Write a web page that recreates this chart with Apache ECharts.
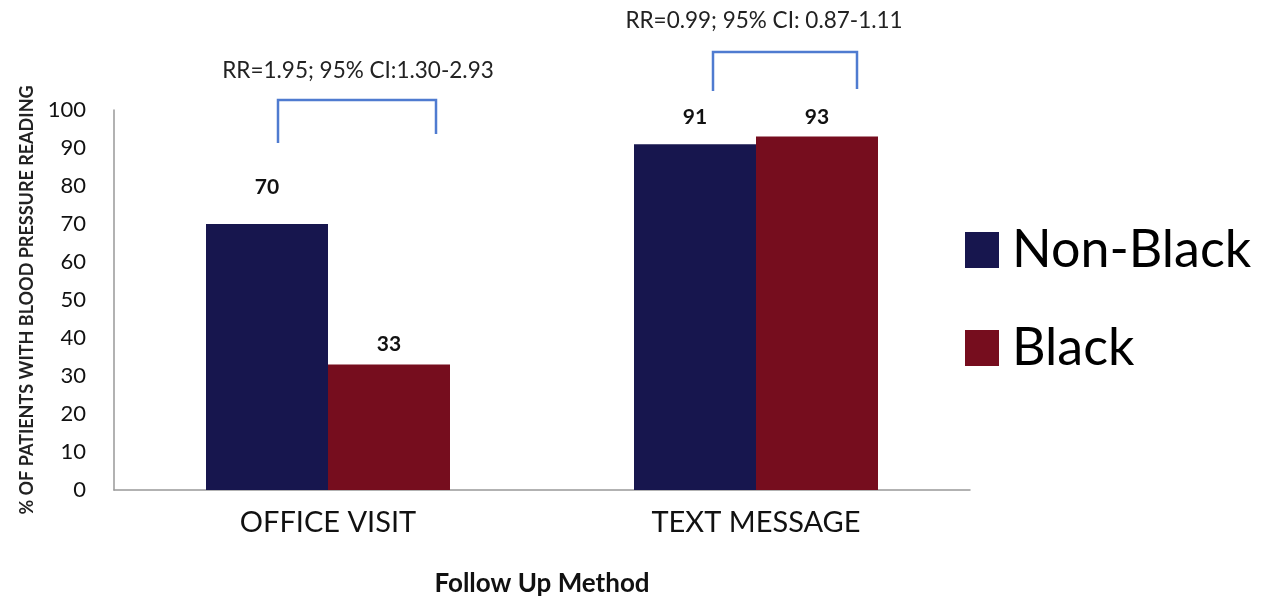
<!DOCTYPE html>
<html>
<head>
<meta charset="utf-8">
<script src="https://cdn.jsdelivr.net/npm/echarts@6/dist/echarts.min.js"></script>
<style>html,body{margin:0;padding:0;background:#fff}#c{width:1266px;height:602px}</style>
</head>
<body>
<div id="c"></div>
<script>
var categories = ['OFFICE VISIT', 'TEXT MESSAGE'];
var seriesNames = ['Non-Black', 'Black'];
var nonBlack = [70, 91];
var black = [33, 93];
var yTicks = [0, 10, 20, 30, 40, 50, 60, 70, 80, 90, 100];
var annotations = ['RR=1.95; 95% CI:1.30-2.93', 'RR=0.99; 95% CI: 0.87-1.11'];

var FONT = 'Lato, "Open Sans", sans-serif';
var chart = echarts.init(document.getElementById('c'), null, {renderer: 'canvas'});
var labelDist = {'Non-Black': [26, 16], 'Black': [10, 9]};

function mk(name, vals, color) {
  return {
    name: name, type: 'bar', data: vals.map(function (v, i) {
      return {value: v, label: {distance: labelDist[name][i]}};
    }),
    barWidth: 122, barGap: '0%',
    itemStyle: {color: color},
    label: {show: true, position: 'top', color: '#111', fontWeight: 'bold', fontSize: 21, fontFamily: FONT}
  };
}

var option = {
  animation: false,
  backgroundColor: '#fff',
  grid: {left: 114, right: 296, top: 110, bottom: 112, containLabel: false, outerBoundsMode: 'none'},
  legend: {
    orient: 'vertical', left: 960, top: 217,
    itemWidth: 34, itemHeight: 36, itemGap: 42,
    icon: 'rect',
    textStyle: {fontSize: 52, lineHeight: 56, color: '#000', fontFamily: FONT, padding: [0, 0, 0, 8]},
    data: seriesNames
  },
  xAxis: {
    type: 'category', data: categories,
    axisLine: {lineStyle: {color: '#999', width: 1.5}},
    axisTick: {show: false},
    axisLabel: {fontSize: 29, color: '#111', margin: 18, fontFamily: FONT},
    name: 'Follow Up Method', nameLocation: 'middle', nameGap: 81,
    nameTextStyle: {fontSize: 26, fontWeight: 'bold', color: '#111', fontFamily: FONT}
  },
  yAxis: {
    type: 'value', min: yTicks[0], max: yTicks[yTicks.length - 1], interval: 10,
    axisLine: {show: true, lineStyle: {color: '#999', width: 1.5}},
    axisTick: {show: false},
    splitLine: {show: false},
    axisLabel: {fontSize: 22, color: '#111', margin: 28, fontFamily: FONT},
    name: '% OF PATIENTS WITH BLOOD PRESSURE READING', nameLocation: 'middle', nameGap: 78,
    nameRotate: 90,
    nameTextStyle: {fontSize: 18, fontWeight: 'bold', color: '#222', fontFamily: FONT}
  },
  series: [mk(seriesNames[0], nonBlack, '#17164E'), mk(seriesNames[1], black, '#760D1E')],
  graphic: [
    {type: 'polyline', shape: {points: [[278, 143], [278, 100], [436, 100], [436, 134]]},
      style: {stroke: '#4F7BD0', lineWidth: 2.5, fill: null}},
    {type: 'polyline', shape: {points: [[713, 91], [713, 52], [857, 52], [857, 89]]},
      style: {stroke: '#4F7BD0', lineWidth: 2.5, fill: null}},
    {type: 'text', x: 358, y: 71, style: {text: annotations[0], fontSize: 22.5, fill: '#222',
      fontFamily: FONT, textAlign: 'center', textVerticalAlign: 'middle'}},
    {type: 'text', x: 764, y: 21, style: {text: annotations[1], fontSize: 22.5, fill: '#222',
      fontFamily: FONT, textAlign: 'center', textVerticalAlign: 'middle'}}
  ]
};
chart.setOption(option);
</script>
</body>
</html>
